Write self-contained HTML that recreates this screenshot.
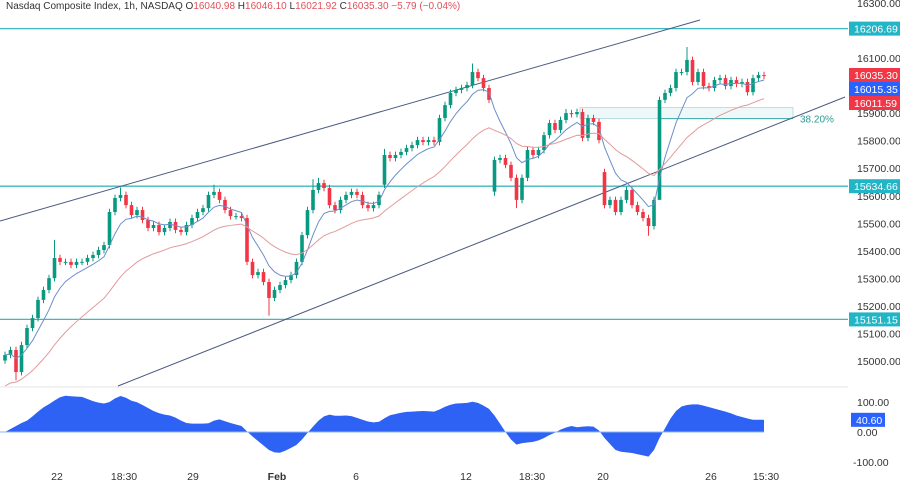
<!DOCTYPE html>
<html><head><meta charset="utf-8"><style>
html,body{margin:0;padding:0;background:#fff;}
svg{display:block;font-family:"Liberation Sans",sans-serif;}
</style></head><body>
<svg id="c" width="900" height="483" viewBox="0 0 900 483">
<text x="6" y="9" font-size="10" fill="#333">Nasdaq Composite Index, 1h, NASDAQ  <tspan fill="#333">O</tspan><tspan fill="#e0505a">16040.98</tspan><tspan fill="#333">  H</tspan><tspan fill="#e0505a">16046.10</tspan><tspan fill="#333">  L</tspan><tspan fill="#e0505a">16021.92</tspan><tspan fill="#333">  C</tspan><tspan fill="#e0505a">16035.30</tspan><tspan fill="#e0505a">  −5.79 (−0.04%)</tspan></text>
</svg>
<script>
const closes=[15022,15040,14960,15058,15120,15156,15222,15258,15301,15374,15360,15360,15349,15360,15360,15374,15385,15403,15421,15541,15592,15603,15566,15530,15548,15512,15483,15494,15468,15483,15505,15476,15468,15494,15519,15541,15555,15603,15614,15585,15548,15526,15526,15519,15360,15312,15323,15287,15229,15258,15276,15294,15312,15360,15457,15548,15621,15646,15628,15566,15548,15585,15603,15614,15603,15566,15555,15566,15603,15748,15737,15748,15759,15773,15784,15802,15795,15802,15795,15882,15929,15973,15984,15991,16002,16049,16027,15991,15948,15730,15737,15712,15665,15585,15665,15766,15748,15766,15820,15864,15839,15875,15900,15896,15904,15810,15882,15868,15802,15566,15585,15541,15585,15621,15566,15541,15519,15490,15585,15948,15973,15991,16049,16049,16093,16013,16049,15998,15991,16020,16027,15998,16020,16006,16013,15976,16027,16038,16035];
const gapOpens={19:15421,69:15640,89:15615,109:15686};
const highOverrides={9:15440,21:15630,38:15640,56:15660,57:15665,69:15770,85:16080,102:15915,119:15960,124:16140,137:16050};
const lowOverrides={2:14930,48:15165,89:15600,93:15555,117:15455,119:15875};
const osc=[0,10,20,30,38,52,68,82,93,105,116,121,119,118,117,110,103,98,95,100,112,120,114,104,99,90,80,70,63,58,55,48,38,30,28,28,28,29,38,42,36,30,25,20,2,-15,-30,-45,-60,-68,-69,-62,-53,-43,-25,-3,18,38,52,58,54,54,55,53,47,41,35,32,34,46,56,60,64,67,68,69,70,69,68,75,84,91,95,96,97,101,97,88,77,55,28,0,-25,-42,-37,-35,-33,-28,-20,-10,-2,8,15,20,16,18,19,18,5,-20,-40,-60,-66,-68,-70,-74,-78,-82,-60,-20,12,45,70,85,90,92,92,88,83,78,73,68,62,55,50,45,41,41,40.6];
const priceTicks=[16300,16100,15900,15800,15700,15600,15500,15400,15300,15200,15100,15000];
const levels=[16206.69,15634.66,15151.15];
const oscTicks=[100,0,-100];
const xLabels=[["22",57],["18:30",124],["29",193],["Feb",277],["6",356],["12",466],["18:30",532],["20",603],["26",711],["15:30",766]];

const NS="http://www.w3.org/2000/svg";
const svg=document.getElementById('c');
const Y=p=>58+(16100-p)*0.2755;
const X=i=>5+5.5*i;
const OY=v=>432-v*0.3;
function mk(t,a,parent){const e=document.createElementNS(NS,t);for(const k in a)e.setAttribute(k,a[k]);(parent||svg).appendChild(e);return e;}

levels.forEach((l,i)=>{const ln=mk('line',{x1:0,x2:848,y1:Y(l),y2:Y(l),stroke:'#3fb8c0','stroke-width':1.3});

});
const fb=mk('rect',{x:580,y:Y(15920),width:213,height:Y(15880)-Y(15920),fill:'#eef8f9',stroke:'#a9dade','stroke-width':0.8});


const fl=mk('line',{x1:658,x2:793,y1:Y(15880),y2:Y(15880),stroke:'#3fa8a8','stroke-width':1});


const ft=mk('text',{x:800,y:Y(15880)+4,'font-size':10,fill:'#2a9d8f'});ft.textContent='38.20%';


const t1=mk('line',{x1:0,y1:221,x2:700,y2:20,stroke:'#4a5a80','stroke-width':1});


const t2=mk('line',{x1:118,y1:386,x2:845,y2:97,stroke:'#4a5a80','stroke-width':1});



const opens=closes.map((c,i)=>gapOpens[i]!==undefined?gapOpens[i]:(i?closes[i-1]:c-20));
closes.forEach((c,i)=>{const o=opens[i];const hi=highOverrides[i]!==undefined?highOverrides[i]:Math.max(o,c)+12;const lo=lowOverrides[i]!==undefined?lowOverrides[i]:Math.min(o,c)-12;
const col=c>=o?'#089981':'#f23645';const g=mk('g',{});


mk('line',{x1:X(i),x2:X(i),y1:Y(hi),y2:Y(lo),stroke:col,'stroke-width':1},g);
const top=Y(Math.max(o,c)),bot=Y(Math.min(o,c));
mk('rect',{x:X(i)-1.8,y:top,width:3.6,height:Math.max(1,bot-top),fill:col},g);});

function ema(n,seed){let out=[],k=2/(n+1),v=seed;closes.forEach((c,i)=>{v=c*k+v*(1-k);out.push(v);});return out;}
const fast=ema(7,closes[0]),slow=ema(24,14900);
const pf=mk('path',{d:fast.map((v,i)=>(i?'L':'M')+X(i)+' '+Y(v)).join(''),fill:'none',stroke:'#6b8fc9','stroke-width':1});


const ps=mk('path',{d:slow.map((v,i)=>(i?'L':'M')+X(i)+' '+Y(v)).join(''),fill:'none',stroke:'#e39a9a','stroke-width':1});



const sp=mk('line',{x1:0,x2:848,y1:387,y2:387,stroke:'#e6e6e6','stroke-width':1});



const od='M'+X(0)+' '+OY(0)+osc.map((v,i)=>'L'+X(i)+' '+OY(v)).join('')+'L'+X(osc.length-1)+' '+OY(0)+'Z';
const op=mk('path',{d:od,fill:'#2e62f5'});


const oz=mk('line',{x1:0,x2:X(osc.length-1),y1:OY(0),y2:OY(0),stroke:'#8ab4f8','stroke-width':1});



priceTicks.forEach(p=>{const t=mk('text',{x:857,y:Y(p)+4,'font-size':10.5,fill:'#333'});t.textContent=p.toFixed(2);

});
oscTicks.forEach(v=>{const t=mk('text',{x:v<0?853:857,y:OY(v)+4,'font-size':10.5,fill:'#333'});t.textContent=v.toFixed(2);

});
function tag(val,y,bg,name,x,w){const g=mk('g',{});


mk('rect',{x:x||849,y:y-7,width:w||51,height:14,fill:bg},g);const t=mk('text',{x:(x||849)+5,y:y+4,'font-size':10.5,fill:'#fff'},g);t.textContent=val;}
levels.forEach(l=>tag(l.toFixed(2),Y(l),'#22b5c5','level-price-tag'));
tag('16035.30',75,'#f23645','close-price-tag');
tag('16015.35',89,'#2962ff','fast-ma-tag');
tag('16011.59',103,'#f23645','slow-ma-tag');
tag(osc[osc.length-1].toFixed(2),OY(osc[osc.length-1]),'#2962ff','osc-value-tag',851,34);
xLabels.forEach(([s,x])=>{const t=mk('text',{x:x,y:480,'font-size':10.5,fill:'#333','text-anchor':'middle','font-weight':s==='Feb'?'bold':'normal'});t.textContent=s;

});
</script>
</body></html>
